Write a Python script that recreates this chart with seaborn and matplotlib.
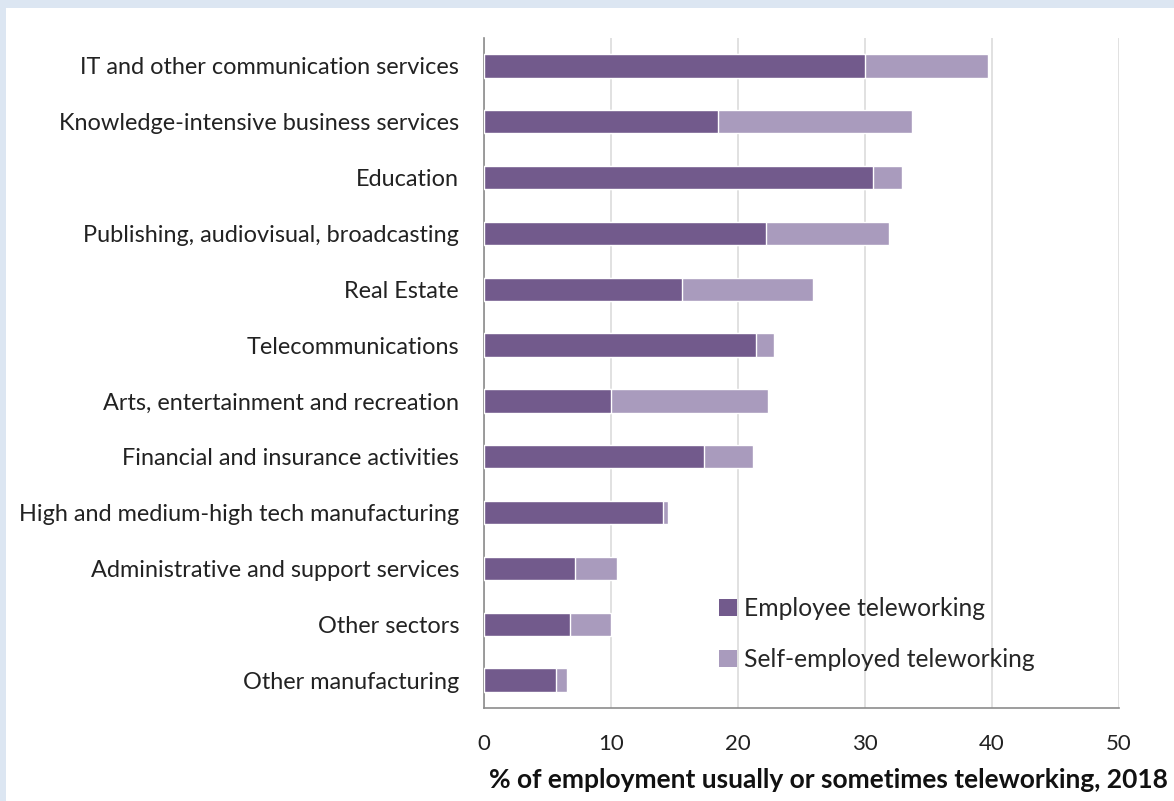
import numpy as np
import pandas as pd
import matplotlib
matplotlib.use("Agg")
import matplotlib.pyplot as plt
from matplotlib.patches import Rectangle, Patch
import seaborn as sns

# sectors, top to bottom as in the chart
sectors = ["IT and other communication services",
           "Knowledge-intensive business services",
           "Education",
           "Publishing, audiovisual, broadcasting",
           "Real Estate",
           "Telecommunications",
           "Arts, entertainment and recreation",
           "Financial and insurance activities",
           "High and medium-high tech manufacturing",
           "Administrative and support services",
           "Other sectors",
           "Other manufacturing"]
employee = [30.0, 18.4, 30.6, 22.2, 15.6, 21.4, 10.0, 17.3, 14.1, 7.2, 6.8, 5.65]
self_employed = [9.7, 15.3, 2.3, 9.7, 10.3, 1.4, 12.4, 3.9, 0.4, 3.3, 3.2, 0.85]
xticks = [0, 10, 20, 30, 40, 50]

dark = "#725a8c"
light = "#a99bbd"
grey = "#8c8c8c"

df = pd.DataFrame({"sector": sectors, "employee": employee, "self": self_employed})
df["total"] = df["employee"] + df["self"]

sns.set_style("white")
plt.rcParams["font.family"] = ["Lato", "DejaVu Sans"]

fig = plt.figure(figsize=(11.74, 8.01), dpi=100, facecolor="#dce6f2")
fig.patches.append(Rectangle((6 / 1174, 0), 1, 1 - 8 / 801, transform=fig.transFigure,
                             facecolor="white", edgecolor="none", zorder=-5))
ax = fig.add_axes([484 / 1174, 1 - 708 / 801, (1119 - 484) / 1174, (708 - 38) / 801])
ax.set_facecolor("white")

# light bar = full total, dark bar drawn over it
sns.barplot(data=df, y="sector", x="total", color=light, width=0.42,
            orient="h", ax=ax, saturation=1, zorder=3)
sns.barplot(data=df, y="sector", x="employee", color=dark, width=0.42,
            orient="h", ax=ax, saturation=1, zorder=4)

ax.set_xlim(0, 50)
ax.set_ylim(len(sectors) - 0.5, -0.5)
ax.set_xticks(xticks)
ax.set_xticklabels([str(t) for t in xticks], fontsize=16, color="#222222")
ax.grid(axis="x", color="#dcdcdc", linewidth=1.2, zorder=0)
ax.set_axisbelow(True)

# category boundary ticks on the y axis like excel
ax.set_yticks(np.arange(-0.5, len(sectors), 1.0), minor=True)
ax.tick_params(axis="y", which="major", length=0, pad=18, labelsize=16.9, labelcolor="#222222")
ax.tick_params(axis="y", which="minor", length=8, width=1.2, color=grey, direction="out")
ax.tick_params(axis="x", which="major", length=8, width=1.2, color=grey, direction="out",
               pad=11)

for s in ["top", "right"]:
    ax.spines[s].set_visible(False)
for s in ["left", "bottom"]:
    ax.spines[s].set_color(grey)
    ax.spines[s].set_linewidth(1.2)

ax.set_xlabel("")
ax.set_ylabel("")
fig.text(1168 / 1174, 1 - 780 / 801, "% of employment usually or sometimes teleworking, 2018",
         ha="right", va="center", fontsize=19, fontweight="bold", color="#111111")

handles = [Patch(facecolor=dark, edgecolor="none", label="Employee teleworking"),
           Patch(facecolor=light, edgecolor="none", label="Self-employed teleworking")]
ax.legend(handles=handles, loc="upper left", bbox_to_anchor=(0.336, 0.199), frameon=False,
          fontsize=17.7, handlelength=0.7, handleheight=0.7, handletextpad=0.3,
          labelspacing=1.15)

fig.savefig("out.png", dpi=100, facecolor=fig.get_facecolor())
